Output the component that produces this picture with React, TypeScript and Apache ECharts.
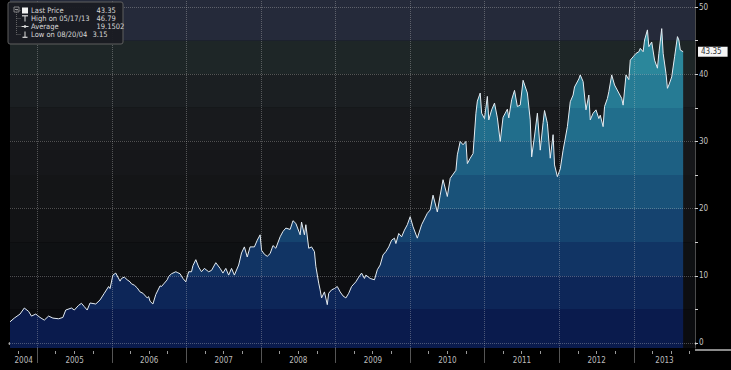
import React, { useEffect, useRef } from 'react';
import * as echarts from 'echarts';

// ---- data (weeks counted from the first close, 08/20/04) ----
const startDate = Date.UTC(2004, 7, 20);
const axisEndDate = Date.UTC(2013, 9, 27);

const weeks = [
  0, 3, 7, 10, 13, 15, 18, 21, 24, 27, 30, 34, 37, 39, 43, 45, 48, 50, 52, 54,
  56, 60, 63, 66, 69, 70, 72, 74, 77, 78, 80, 82, 84, 85, 87, 89, 91, 93, 96, 97,
  98, 100, 102, 105, 106, 108, 110, 111, 113, 116, 117, 119, 121, 123, 125, 127, 128, 130, 132, 134,
  136, 139, 141, 144, 147, 149, 151, 153, 155, 157, 160, 162, 164, 166, 168, 171, 173, 175, 176, 178,
  180, 182, 184, 186, 189, 191, 193, 196, 198, 200, 203, 204, 206, 207, 209, 211, 213, 214, 216, 217,
  218, 220, 222, 223, 225, 227, 229, 231, 233, 235, 237, 239, 242, 244, 246, 248, 249, 252, 255, 257,
  259, 261, 263, 265, 267, 269, 270, 272, 274, 276, 278, 280, 282, 285, 288, 292, 294, 296, 299, 301,
  303, 306, 308, 312, 313, 315, 317, 319, 320, 322, 324, 326, 327, 329, 330, 332, 334, 335, 337, 339,
  341, 343, 345, 348, 349, 351, 353, 355, 357, 359, 362, 364, 365, 367, 369, 371, 373, 374, 376, 378,
  380, 381, 383, 385, 387, 390, 392, 394, 395, 398, 399, 401, 403, 405, 406, 408, 410, 412, 413, 415,
  416, 418, 419, 421, 423, 426, 428, 429, 431, 433, 434, 436, 438, 440, 441, 443, 444, 446, 447, 449,
  451, 453, 454, 456, 457, 459, 460, 461, 463, 465, 467, 468, 469, 471,
];

const prices = [
  3.15, 3.7, 4.3, 5.2, 4.7, 4.0, 4.3, 3.8, 3.4, 4.0, 3.7, 3.6, 3.8, 4.9, 5.2, 4.9, 5.6, 5.9, 5.4, 4.9,
  5.95, 5.8, 6.4, 7.4, 8.4, 8.1, 10.1, 10.4, 9.2, 9.6, 9.8, 9.4, 9.1, 8.8, 8.6, 8.2, 7.6, 7.4, 6.7, 6.9,
  6.2, 5.8, 7.2, 8.5, 8.4, 8.9, 9.4, 9.9, 10.3, 10.6, 10.5, 10.3, 9.6, 9.1, 10.6, 10.6, 11.5, 12.4, 11.3, 10.6,
  11.1, 10.6, 10.8, 11.95, 11.1, 10.4, 11.1, 10.1, 11.1, 10.1, 11.6, 13.4, 14.3, 12.8, 14.3, 14.3, 15.3, 16.1, 13.8, 13.2,
  12.9, 13.3, 14.5, 14.1, 15.8, 16.6, 17.1, 16.9, 18.2, 17.8, 16.1, 18.0, 16.1, 17.6, 14.1, 14.3, 13.6, 11.4, 8.9, 7.9,
  6.7, 7.6, 5.7, 7.4, 7.9, 8.1, 8.4, 7.6, 7.0, 6.7, 7.4, 8.4, 9.1, 9.8, 10.4, 9.6, 10.1, 9.6, 9.4, 10.9,
  11.6, 13.1, 13.6, 14.3, 15.3, 15.6, 14.8, 16.3, 15.8, 16.8, 17.6, 18.8, 17.3, 15.6, 17.6, 19.3, 19.8, 22.0, 19.5, 22.0,
  24.3, 21.8, 24.5, 25.7, 28.0, 30.0, 29.5, 30.0, 26.7, 27.5, 28.2, 34.2, 36.0, 37.2, 34.2, 33.4, 36.7, 33.2, 34.7, 35.7,
  33.5, 30.0, 33.6, 34.8, 33.5, 36.2, 37.6, 35.2, 35.4, 39.1, 37.2, 33.2, 27.7, 30.8, 34.2, 28.7, 32.8, 34.6, 32.7, 27.5,
  31.0, 26.5, 24.75, 25.9, 28.7, 32.2, 35.9, 36.9, 38.1, 39.3, 39.9, 38.9, 34.7, 36.9, 33.2, 34.2, 34.7, 33.4, 33.9, 32.2,
  35.2, 36.4, 37.4, 39.9, 38.4, 37.2, 36.4, 35.4, 39.9, 39.2, 42.1, 42.6, 43.1, 43.35, 43.85, 43.35, 45.1, 46.6, 44.1, 44.8,
  42.1, 40.9, 43.1, 46.79, 43.1, 40.1, 37.9, 38.4, 39.6, 42.6, 45.6, 45.1, 43.6, 43.35,
];

const yearLabels = [2004, 2005, 2006, 2007, 2008, 2009, 2010, 2011, 2012, 2013];
const yLabelValues = [0, 10, 20, 30, 40, 50];
const yTickValues = [0, 5, 10, 15, 20, 25, 30, 35, 40, 45, 50];

const legendRows = [
  { label: 'Last Price', value: '43.35' },
  { label: 'High on 05/17/13', value: '46.79' },
  { label: 'Average', value: '19.1502' },
  { label: 'Low on 08/20/04', value: '3.15' },
];
const lastPrice = 43.35;

const yMin = -0.75;
const yMax = 51.05;
const bandEdges = [yMin, 5, 10, 15, 20, 25, 30, 35, 40, 45, yMax];
// bottom -> top
const bgBandColors = [
  '#0b0c0f', '#0d0e11', '#0f1113', '#121315', '#141517',
  '#16171a', '#181a1d', '#1b1f22', '#1e2627', '#252a3a',
];
const fillBandColors = [
  '#0a1b4d', '#0d2658', '#113464', '#15436f', '#195279',
  '#1d6083', '#216e8c', '#267b94', '#2b879b', '#3193a3',
];

const FONT = "'Liberation Sans Narrow','DejaVu Sans Condensed','Liberation Sans',sans-serif";
const DAY = 86400000;

export default function App() {
  const ref = useRef<HTMLDivElement>(null);

  useEffect(() => {
    if (!ref.current) return;
    const chart = echarts.init(ref.current, undefined, { renderer: 'svg' });

    const seriesData = weeks.map((w, i) => [startDate + w * 7 * DAY, prices[i]]);
    const yearTicks = yearLabels.slice(1).map((y) => Date.UTC(y, 0, 1));
    const yearLabelPos = yearLabels.map((y) => {
      const a = Math.max(Date.UTC(y, 0, 1), startDate);
      const b = Math.min(Date.UTC(y + 1, 0, 1), axisEndDate);
      return (a + b) / 2;
    });
    const quarterTicks: number[] = [];
    yearLabels.forEach((y) => {
      [3, 6, 9].forEach((m) => {
        const t = Date.UTC(y, m, 1);
        if (t > startDate && t < axisEndDate) quarterTicks.push(t);
      });
    });

    const span = yMax - yMin;
    const off = (v: number) => (yMax - v) / span;
    const stops: { offset: number; color: string }[] = [];
    for (let k = bandEdges.length - 2; k >= 0; k--) {
      stops.push({ offset: off(bandEdges[k + 1]), color: fillBandColors[k] });
      stops.push({ offset: off(bandEdges[k]), color: fillBandColors[k] });
    }
    const gridTop = 0;
    const gridHeight = 348;
    const fill = new echarts.graphic.LinearGradient(0, gridTop, 0, gridTop + gridHeight, stops, true);

    const bands = bgBandColors.map((c, k) => [
      { yAxis: bandEdges[k], itemStyle: { color: c } },
      { yAxis: bandEdges[k + 1] },
    ]);

    const Z = 50;
    const txt = (text: string, x: number, y: number) => ({
      type: 'text',
      z: Z + 1,
      style: { text, x, y, fill: '#d8d8d8', fontSize: 7.5, fontFamily: FONT, verticalAlign: 'middle', align: 'left' },
    });
    const ln = (x1: number, y1: number, x2: number, y2: number, stroke: string, lineWidth = 1, dash?: number[]) => ({
      type: 'line',
      z: Z + 1,
      shape: { x1, y1, x2, y2 },
      style: { stroke, lineWidth, lineDash: dash },
    });

    const legendChildren: any[] = [
      {
        type: 'rect',
        z: Z,
        shape: { x: 0, y: 0, width: 115, height: 42, r: 2 },
        style: { fill: 'rgba(26,28,34,0.96)', stroke: '#5e5e5e', lineWidth: 1 },
      },
      { type: 'rect', z: Z + 1, shape: { x: 6, y: 5, width: 5, height: 5 }, style: { fill: 'none', stroke: '#9a9a9a', lineWidth: 0.8 } },
      ln(7, 7.5, 10, 7.5, '#bbb', 0.8),
      ln(8.5, 10, 8.5, 32.5, '#777', 0.8, [1, 1]),
    ];
    legendRows.forEach((r, i) => {
      const cy = 8.5 + i * 8;
      legendChildren.push(ln(8.5, cy, 13, cy, '#777', 0.8, [1, 1]));
      legendChildren.push(txt(r.label, 23, cy));
      legendChildren.push(txt(r.value, i === 3 ? 84.5 : 88.5, cy));
    });
    legendChildren.push({ type: 'rect', z: Z + 1, shape: { x: 14, y: 5.5, width: 6, height: 6 }, style: { fill: '#f2f2f2' } });
    legendChildren.push(ln(14, 13.8, 20, 13.8, '#ddd', 1.2));
    legendChildren.push(ln(17, 13.8, 17, 19.5, '#ddd', 1));
    legendChildren.push(ln(13.5, 24.5, 20.5, 24.5, '#ddd', 1));
    legendChildren.push({ type: 'circle', z: Z + 1, shape: { cx: 17, cy: 24.5, r: 1.3 }, style: { fill: '#ddd' } });
    legendChildren.push(ln(17, 29.5, 17, 35, '#ddd', 1));
    legendChildren.push(ln(14.5, 35.3, 19.5, 35.3, '#ddd', 1.2));

    chart.setOption({
      animation: false,
      backgroundColor: '#000',
      grid: { left: 10, right: 36, top: gridTop, height: gridHeight },
      xAxis: [
        {
          type: 'value',
          min: startDate,
          max: axisEndDate,
          position: 'bottom',
          offset: 2,
          axisLine: { show: true, lineStyle: { color: '#a6a6a6', width: 3 } },
          axisTick: { show: true, customValues: yearTicks, length: 20, lineStyle: { color: '#555', width: 1 } },
          axisLabel: {
            show: true,
            customValues: yearLabelPos,
            formatter: (v: number) => String(new Date(v).getUTCFullYear()),
            color: '#bdbdbd',
            fontSize: 8,
            fontFamily: FONT,
            margin: 6,
          },
          splitLine: { show: false },
        },
        {
          type: 'value',
          min: startDate,
          max: axisEndDate,
          position: 'bottom',
          offset: 3,
          axisLine: { show: false },
          axisTick: { show: true, customValues: quarterTicks, length: 3, lineStyle: { color: '#9a9a9a', width: 1 } },
          axisLabel: { show: false },
          splitLine: { show: false },
        },
      ],
      yAxis: {
        type: 'value',
        position: 'right',
        min: yMin,
        max: yMax,
        axisLine: { show: true, lineStyle: { color: '#4c4c4c', width: 1 } },
        axisTick: { show: true, customValues: yTickValues, length: 3, lineStyle: { color: '#d0d0d0' } },
        axisLabel: { customValues: yLabelValues, color: '#c4c4c4', fontSize: 8, fontFamily: FONT, margin: 4 },
        splitLine: { show: false },
      },
      series: [
        {
          name: 'bands',
          type: 'line',
          z: 1,
          data: [],
          silent: true,
          markArea: { silent: true, data: bands },
        },
        {
          name: 'Last Price',
          type: 'line',
          z: 3,
          data: seriesData,
          symbol: 'none',
          showSymbol: false,
          lineStyle: { color: '#e4ecf2', width: 1 },
          areaStyle: { origin: 'start', color: fill, opacity: 1 },
          markLine: {
            silent: true,
            symbol: ['none', 'none'],
            data: [
              {
                yAxis: lastPrice,
                lineStyle: { color: 'rgba(0,0,0,0)', width: 0 },
                label: {
                  show: true,
                  position: 'end',
                  formatter: '{c}',
                  backgroundColor: '#f4f4f4',
                  color: '#333',
                  fontSize: 8,
                  fontFamily: FONT,
                  padding: [1, 6, 1, 3],
                  distance: 3,
                },
              },
            ],
          },
        },
        {
          name: 'grid',
          type: 'line',
          z: 4,
          data: [],
          silent: true,
          markLine: {
            silent: true,
            symbol: ['none', 'none'],
            label: { show: false },
            lineStyle: { type: 'dotted', color: 'rgba(200,200,200,0.35)', width: 1 },
            data: [
              ...yLabelValues.map((v) => ({ yAxis: v })),
              ...yearTicks.map((t) => ({ xAxis: t })),
            ],
          },
        },
      ],
      graphic: [
        {
          type: 'line',
          z: Z,
          shape: { x1: 695, y1: 350, x2: 731, y2: 350 },
          style: { stroke: '#8a8a8a', lineWidth: 2 },
        },
        { type: 'group', x: 8, y: 2, children: legendChildren },
      ],
    });

    return () => chart.dispose();
  }, []);

  return (
    <div
      ref={ref}
      style={{ position: 'absolute', left: 0, top: 0, width: 731, height: 370, background: '#000' }}
    />
  );
}
